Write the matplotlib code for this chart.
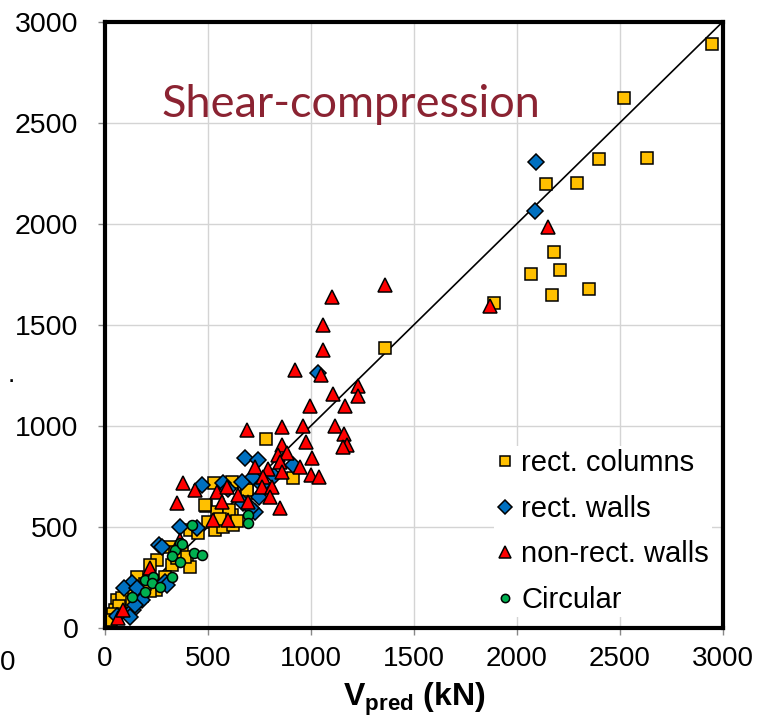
import matplotlib
matplotlib.use("Agg")
import matplotlib.pyplot as plt
from matplotlib.lines import Line2D

plt.rcParams['font.family'] = ['Liberation Sans', 'DejaVu Sans']
plt.rcParams['mathtext.fontset'] = 'custom'
plt.rcParams['mathtext.rm'] = 'Liberation Sans'
plt.rcParams['mathtext.bf'] = 'Liberation Sans:bold'

# data (V_pred, V_test) in kN
cols_x = [2950, 2520, 2400, 2630, 2290, 2140, 2180, 2210, 2070, 2350, 2170, 1890, 1360,
          780, 915, 530, 615, 690, 490, 545, 615, 500, 535, 575, 620, 415, 315, 255, 400,
          415, 325, 375, 220, 155, 250, 220, 155, 105, 60, 50, 25, 85,
          485, 605, 690, 640, 560, 450, 350, 290, 195, 130, 180, 70, 40, 30, 388, 340]
cols_y = [2890, 2625, 2320, 2325, 2200, 2195, 1860, 1770, 1750, 1680, 1650, 1610, 1385,
          935, 740, 718, 722, 668, 604, 574, 560, 525, 485, 500, 510, 485, 400, 335, 335,
          300, 312, 370, 310, 250, 190, 185, 185, 175, 140, 90, 55, 150,
          609, 585, 685, 530, 540, 470, 345, 250, 220, 130, 160, 110, 70, 40, 351, 376]

walls_x = [2095, 2090, 1035, 680, 745, 470, 575, 665, 720, 765, 750, 730, 670, 915,
           365, 445, 265, 290, 130, 135, 180, 95, 155, 710, 600, 820, 275, 120, 145, 300, 60]
walls_y = [2305, 2065, 1260, 840, 830, 708, 718, 722, 745, 708, 648, 575, 620, 807,
           500, 495, 410, 228, 222, 90, 140, 198, 200, 595, 690, 750, 400, 55, 115, 215, 60]

nonrect_x = [1360, 1105, 1060, 1060, 925, 1050, 1230, 1230, 1110, 1165, 995, 960, 1115,
             1160, 1175, 1155, 975, 1005, 947, 1000, 1040, 1870, 2150, 860, 690, 860, 840,
             885, 850, 790, 728, 380, 437, 545, 592, 646, 767, 762, 811, 801, 694, 849,
             568, 524, 597, 350, 365, 218, 63, 87, 860]
nonrect_y = [1695, 1638, 1498, 1378, 1275, 1250, 1200, 1150, 1158, 1100, 1100, 1000, 1000,
             960, 906, 896, 921, 842, 797, 757, 747, 1595, 1985, 995, 980, 906, 856,
             866, 822, 787, 797, 718, 683, 673, 698, 658, 747, 698, 698, 648, 624, 594,
             624, 535, 535, 619, 436, 297, 50, 89, 772]

circ_x = [694, 694, 422, 364, 340, 325, 435, 473, 325, 364, 194, 233, 228, 267, 194, 131, 374]
circ_y = [559, 520, 512, 421, 386, 356, 371, 361, 252, 327, 238, 252, 223, 203, 178, 153, 416]

ticks = [0, 500, 1000, 1500, 2000, 2500, 3000]

fig = plt.figure(figsize=(7.6, 7.26), dpi=100)
ax = fig.add_axes([0.138, 0.135, 0.813, 0.835])

ax.plot([0, 3000], [0, 3000], color='black', lw=1.2, zorder=2)

mk = dict(linestyle='none', markeredgecolor='black', markeredgewidth=1.1)
ax.plot(cols_x, cols_y, marker='s', markersize=8.6, markerfacecolor='#FFC000', zorder=3, **mk)
ax.plot(walls_x, walls_y, marker='D', markersize=8.6, markerfacecolor='#0070C0', zorder=3, **mk)
ax.plot(nonrect_x, nonrect_y, marker='^', markersize=10, markerfacecolor='#FF0000', zorder=3, **mk)
ax.plot(circ_x, circ_y, marker='o', markersize=7.2, markerfacecolor='#00B050', zorder=3, **mk)

ax.set_xlim(0, 3000)
ax.set_ylim(0, 3000)
ax.set_xticks(ticks)
ax.set_yticks(ticks)
ax.grid(True, color='#d4d4d4', lw=1)
ax.set_axisbelow(True)
ax.tick_params(axis='both', direction='out', length=5, color='#888888', width=1)
ax.tick_params(axis='x', labelsize=20, pad=8)
ax.tick_params(axis='y', labelsize=20.5, pad=14)
for s in ax.spines.values():
    s.set_linewidth(3)
    s.set_zorder(5)

ax.text(275, 2590, 'Shear-compression', color='#8B2332', fontsize=32.5,
        family=['Lato', 'DejaVu Sans'], ha='left', va='center')

ax.set_xlabel(r'$\mathbf{V_{pred}}$ $\mathbf{(kN)}$', fontsize=23, labelpad=6)

handles = [
    Line2D([], [], marker='s', markersize=6.5, markerfacecolor='#FFC000', **mk),
    Line2D([], [], marker='D', markersize=7.5, markerfacecolor='#0070C0', **mk),
    Line2D([], [], marker='^', markersize=8, markerfacecolor='#FF0000', **mk),
    Line2D([], [], marker='o', markersize=6, markerfacecolor='#00B050', **mk),
]
labels = ['rect. columns', 'rect. walls', 'non-rect. walls', 'Circular']
leg = ax.legend(handles, labels, loc='lower right', bbox_to_anchor=(1.006, -0.0055),
                fontsize=21, frameon=True, fancybox=False, framealpha=1,
                edgecolor='none', facecolor='white', handlelength=0.6,
                handletextpad=0.25, labelspacing=0.6, borderpad=0.1)
leg.set_zorder(4)

# fragments of the neighbouring panel at the left edge
fig.text(0.0, 0.087, '0', fontsize=20, ha='left', va='center')
fig.text(0.010, 0.483, '.', fontsize=19, ha='left', va='center')

fig.savefig('out.png', dpi=100)
